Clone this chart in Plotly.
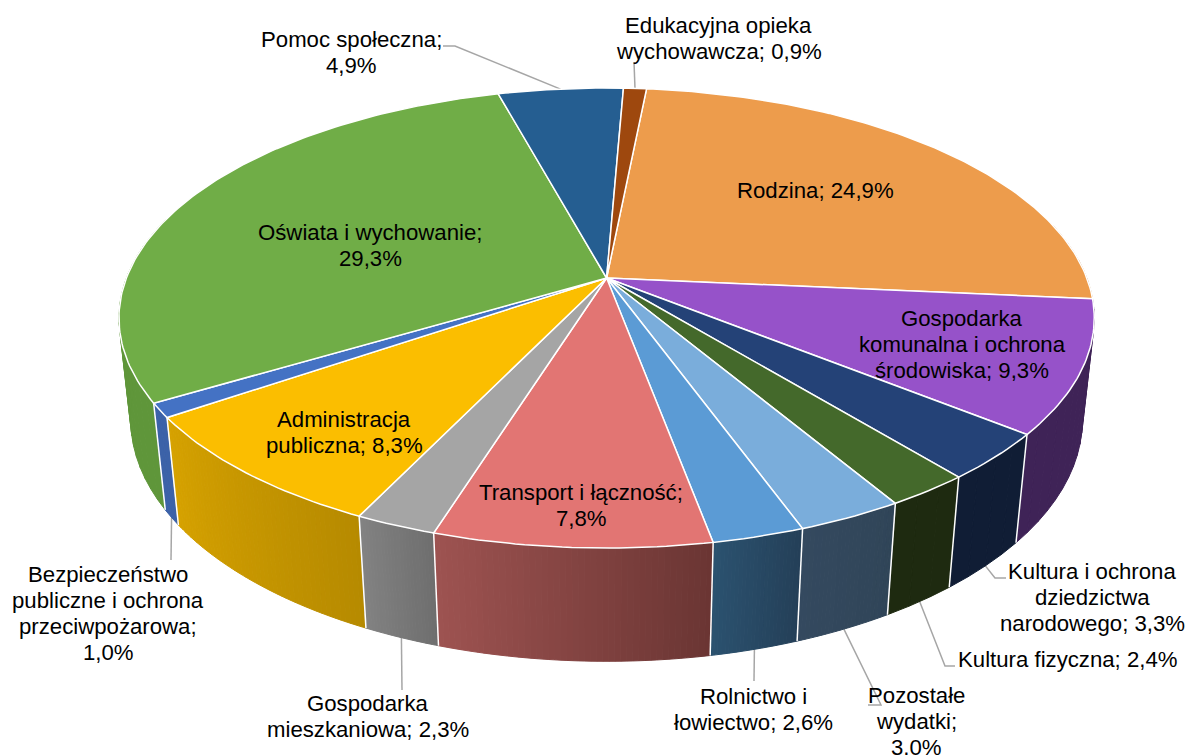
import numpy as np
import plotly.graph_objects as go

# ---- data ----
names = ["Rodzina", "Gospodarka komunalna i ochrona środowiska", "Kultura i ochrona dziedzictwa narodowego",
         "Kultura fizyczna", "Pozostałe wydatki", "Rolnictwo i łowiectwo", "Transport i łączność",
         "Gospodarka mieszkaniowa", "Administracja publiczna", "Bezpieczeństwo publiczne i ochrona przeciwpożarowa",
         "Oświata i wychowanie", "Pomoc społeczna", "Edukacyjna opieka wychowawcza"]
values = [24.9, 9.3, 3.3, 2.4, 3.0, 2.6, 7.8, 2.3, 8.3, 1.0, 29.3, 4.9, 0.9]
label_lines = [["Rodzina; 24,9%"], ["Gospodarka", "komunalna i ochrona", "środowiska; 9,3%"],
               ["Kultura i ochrona", "dziedzictwa", "narodowego; 3,3%"], ["Kultura fizyczna; 2,4%"],
               ["Pozostałe", "wydatki;", "3,0%"], ["Rolnictwo i", "łowiectwo; 2,6%"], ["Transport i łączność;", "7,8%"],
               ["Gospodarka", "mieszkaniowa; 2,3%"], ["Administracja", "publiczna; 8,3%"],
               ["Bezpieczeństwo", "publiczne i ochrona", "przeciwpożarowa;", "1,0%"], ["Oświata i wychowanie;", "29,3%"],
               ["Pomoc społeczna;", "4,9%"], ["Edukacyjna opieka", "wychowawcza; 0,9%"]]

# ---- styles ----
top_colors = ["#ED9C4C", "#9652C9", "#244277", "#44692B", "#7AADDB", "#5B9BD5", "#E27573",
              "#A5A5A5", "#FBBE00", "#4472C4", "#70AD47", "#255E91", "#9E480E"]
side_left = ["#AD6F30", "#3F2357", "#101D35", "#1E2A10", "#34495F", "#2B5270", "#9E5351",
             "#828282", "#D6A200", "#3C62A8", "#5F963A", "#1E4A73", "#7A360A"]
side_right = ["#AD6F30", "#3F2357", "#101D35", "#1E2A10", "#304558", "#243F57", "#6A3533",
              "#6E6E6E", "#B68A00", "#3C62A8", "#5F963A", "#1E4A73", "#7A360A"]
label_pos = [(815, 190), (962, 344), (1092, 597), (1068, 659), (916, 721), (753, 709), (581, 505),
             (368, 716), (344, 432), (108, 613), (370, 245), (351, 52), (718.5, 38)]
LINE_STEP = 26
# leader elbows: (label end, elbow) for labels outside the pie; None = inside
leaders = {2: [(995, 578), (1006, 578)], 3: [(945, 666), (955, 666)], 4: [(881, 705), (868, 705)],
           5: [(754, 681)], 7: [(402, 690)], 9: [(171, 560)], 11: [(455, 46), (443, 46)], 12: [(634, 62)]}

# ---- projection of the tilted disc ----
CX, CY, A, B, K, M, D = 606.6, 278.0, 480.2, 223.0, 0.174, 0.024, 102.8
START_DEG = 5.6


def proj(theta, r=1.0, z=0.0):
    u, v = r * np.sin(theta), -r * np.cos(theta)
    w = 1 - K * v + M * z
    return CX + A * u / w, CY + (B * v + D * z) / w


def hex_mix(c1, c2, t):
    a = [int(c1[i:i + 2], 16) for i in (1, 3, 5)]
    b = [int(c2[i:i + 2], 16) for i in (1, 3, 5)]
    return "rgb(%d,%d,%d)" % tuple(round(p + (q - p) * t) for p, q in zip(a, b))


edges = np.radians(START_DEG + np.concatenate([[0], np.cumsum(values)]) * 3.6)
fig = go.Figure()


def poly(xs, ys, fill, line=None, width=0):
    fig.add_trace(go.Scatter(x=xs, y=ys, mode="lines", fill="toself", fillcolor=fill,
                             line=dict(color=line or fill, width=width), hoverinfo="skip", showlegend=False))


# leader lines (below the pie)
for i, pts in leaders.items():
    mid = (edges[i] + edges[i + 1]) / 2
    sx, sy = proj(mid) if i >= 11 else proj(mid, z=1)
    fig.add_trace(go.Scatter(x=[sx] + [p[0] for p in pts], y=[sy] + [p[1] for p in pts], mode="lines",
                             line=dict(color="#A6A6A6", width=1.5), hoverinfo="skip", showlegend=False))

# sides, back to front
VIS = -0.25
for i in np.argsort([-np.cos((edges[j] + edges[j + 1]) / 2) for j in range(len(values))]):
    same = side_left[i] == side_right[i]
    n = max(2, int(values[i] * 1.5)) if same else max(24, int(values[i] * 6))
    ts = np.linspace(edges[i], edges[i + 1], n + 1)
    for j in range(n):
        sub = np.linspace(ts[j], ts[j + 1], 4)
        if -np.cos(sub[1]) < VIS:
            continue
        x1, y1 = proj(sub)
        x2, y2 = proj(sub[::-1], z=1)
        col = hex_mix(side_right[i], side_left[i], (j + 0.5) / n)
        poly(np.r_[x1, x2, x1[0]], np.r_[y1, y2, y1[0]], col, col, 1)

# white seams between side panels
for e in edges[:-1]:
    if -np.cos(e) > 0.1:
        x1, y1 = proj(e)
        x2, y2 = proj(e, z=1)
        fig.add_trace(go.Scatter(x=[x1, x2], y=[y1, y2], mode="lines", line=dict(color="white", width=1.5),
                                 hoverinfo="skip", showlegend=False))

# top slices
for i in range(len(values)):
    ts = np.linspace(edges[i], edges[i + 1], max(6, int(values[i] * 4)))
    x, y = proj(ts)
    poly(np.r_[CX, x, CX], np.r_[CY, y, CY], top_colors[i], "white", 1.5)

annotations = []
for p, lines in zip(label_pos, label_lines):
    for k, t in enumerate(lines):
        annotations.append(dict(x=p[0], y=p[1] + (k - (len(lines) - 1) / 2) * LINE_STEP, text=t, showarrow=False,
                                xanchor="center", yanchor="middle", align="center",
                                font=dict(family="Liberation Sans, Arial, sans-serif", size=22.2, color="#000000")))

fig.update_layout(width=1188, height=755, margin=dict(l=0, r=0, t=0, b=0), paper_bgcolor="white",
                  plot_bgcolor="white", showlegend=False, annotations=annotations,
                  xaxis=dict(range=[0, 1188], visible=False, fixedrange=True),
                  yaxis=dict(range=[755, 0], visible=False, fixedrange=True))
fig.write_html("out.html", config={"displayModeBar": False},
               post_script="document.body.style.margin='0';")
